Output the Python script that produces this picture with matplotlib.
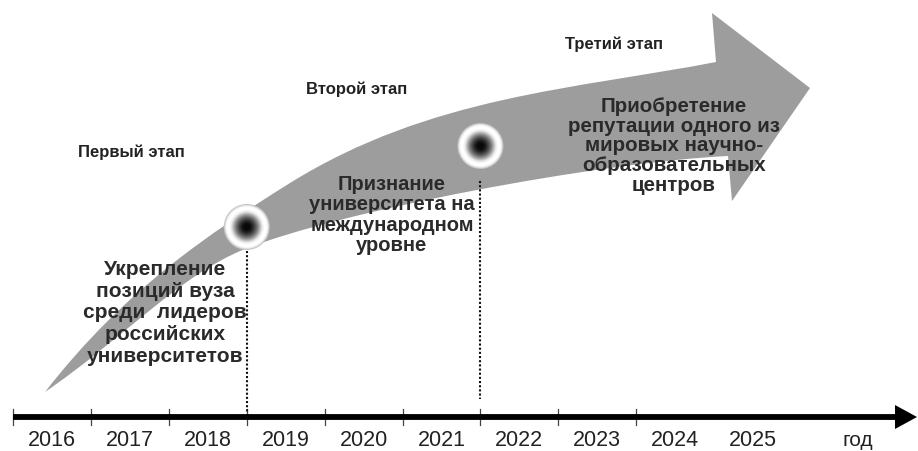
import numpy as np
import matplotlib
matplotlib.use("Agg")
import matplotlib.pyplot as plt
from matplotlib.path import Path
from matplotlib.patches import PathPatch, Polygon

# ---------------- data ----------------
years = [2016, 2017, 2018, 2019, 2020, 2021, 2022, 2023, 2024, 2025]
axis_unit = "год"
stage_titles = ["Первый этап", "Второй этап", "Третий этап"]
stage_texts = [
    "Укрепление\nпозиций вуза\nсреди  лидеров\nроссийских\nуниверситетов",
    "Признание\nуниверситета на\nмеждународном\nуровне",
    "Приобретение\nрепутации одного из\nмировых научно-\nобразовательных\nцентров",
]
milestones = [2018.5, 2021.5]          # boundaries between stages

# ---------------- layout ----------------
W, H = 918, 452
PX_PER_YEAR = 77.9
X_FIRST = 52.0                          # pixel centre of first year
x_left = years[0] - X_FIRST / PX_PER_YEAR
x_right = x_left + W / PX_PER_YEAR

plt.rcParams["font.family"] = ["Liberation Sans", "DejaVu Sans"]
TXT = "#222222"

fig = plt.figure(figsize=(W / 100, H / 100), dpi=100)
fig.patch.set_facecolor("white")

ov = fig.add_axes([0, 0, 1, 1])
ov.set_xlim(0, W)
ov.set_ylim(H, 0)
ov.axis("off")

ax = fig.add_axes([0, 0, 1, 1], facecolor="none")
ax.set_xlim(x_left, x_right)
ax.set_ylim(H, 0)
ax.axis("off")

# ---------------- big curved arrow ----------------
verts = [
    (45, 393),
    (125, 290), (210, 234), (290, 184),
    (430, 97), (576, 90), (716, 63),
    (712, 14), (810, 89), (732, 202), (728, 157),
    (600, 163), (340, 212), (245, 250),
    (180, 276), (125, 338), (45, 393),
    (45, 393),
]
codes = ([Path.MOVETO] + [Path.CURVE4] * 6 + [Path.LINETO] * 4 +
         [Path.CURVE4] * 6 + [Path.CLOSEPOLY])
ov.add_patch(PathPatch(Path(verts, codes), facecolor="#9d9d9d",
                       edgecolor="none", zorder=1))

# ---------------- timeline ----------------
AXIS_Y = 418
t_start = years[0] - 0.5
tip = x_right - 1.0 / PX_PER_YEAR
head_len = 22 / PX_PER_YEAR
ax.plot([t_start, tip - head_len + 0.02], [AXIS_Y, AXIS_Y], color="black",
        lw=4.2, solid_capstyle="butt", zorder=3)
ax.add_patch(Polygon([(tip - head_len, AXIS_Y - 12), (tip, AXIS_Y),
                      (tip - head_len, AXIS_Y + 12)], closed=True,
                     facecolor="black", edgecolor="none", zorder=3))
for b in [y - 0.5 for y in years[:-1]]:
    ax.plot([b, b], [410, 426], color="#444444", lw=0.9, zorder=2)

for y in years:
    ax.text(y, 441, str(y), ha="center", va="center", fontsize=15.5,
            color=TXT, zorder=4)
ov.text(858, 441, axis_unit, ha="center", va="center", fontsize=15,
        color=TXT, zorder=4)

# ---------------- milestone dotted lines & circles ----------------
line_tops = [252, 182]
line_bottoms = [414, 400]
circle_y = [228, 147]
for m, t, b in zip(milestones, line_tops, line_bottoms):
    ax.plot([m, m], [t, b], color="#111111", lw=1.5,
            ls=(0, (1.0, 1.0)), zorder=2)

ring = [(46, "#c4c4c4"), (44, "#e2e2e2"), (42, "#f8f8f8"), (40, "#ffffff"),
        (34, "#f2f2f2")]
inner_d = np.linspace(31, 5, 14)
inner_c = 0.85 * (np.linspace(1.0, 0.0, 14) ** 1.6) + 0.03
for m, cy in zip(milestones, circle_y):
    for d, c in ring:
        ax.scatter([m], [cy], s=(d * 0.72) ** 2, color=c, edgecolors="none",
                   zorder=5)
    for d, g in zip(inner_d, inner_c):
        ax.scatter([m], [cy], s=(d * 0.72) ** 2, color=(g, g, g),
                   edgecolors="none", zorder=5)

# ---------------- texts ----------------
title_pos = [(131, 152), (357, 89), (614, 44)]
for (tx, ty), s in zip(title_pos, stage_titles):
    ov.text(tx, ty, s, ha="center", va="center", fontsize=12,
            fontweight="bold", color=TXT, zorder=6)

text_pos = [(165, 313, 15.0, 1.17), (392, 215, 14.5, 1.07),
            (674, 146, 14.8, 1.05)]
for (tx, ty, fs, ls), s in zip(text_pos, stage_texts):
    ov.text(tx, ty, s, ha="center", va="center", fontsize=fs,
            fontweight="bold", color="#2a2a2a", linespacing=ls,
            multialignment="center", zorder=6)

fig.savefig("out.png", dpi=100, facecolor="white")
